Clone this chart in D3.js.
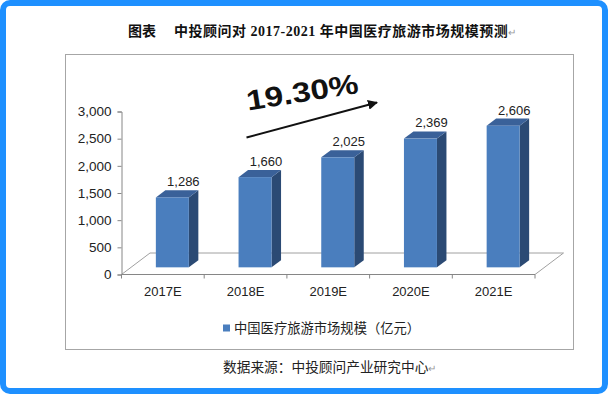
<!DOCTYPE html>
<html>
<head>
<meta charset="utf-8">
<script src="https://cdn.jsdelivr.net/npm/d3@7"></script>
<style>
  body { margin: 0; background: #fff; }
  text { font-family: "Liberation Sans", Arial, sans-serif; }
</style>
</head>
<body>
<svg id="chart" width="611" height="395"></svg>
<script>
// data
const categories = ["2017E", "2018E", "2019E", "2020E", "2021E"];
const marketSize = [1286, 1660, 2025, 2369, 2606];
const yTicks = [0, 500, 1000, 1500, 2000, 2500, 3000];
const seriesName = "中国医疗旅游市场规模（亿元）";
const growthLabel = "19.30%";

const svg = d3.select("#chart");

// outer blue frame
svg.append("rect")
  .attr("x", 3).attr("y", 3).attr("width", 602).attr("height", 388)
  .attr("rx", 7)
  .attr("fill", "#fff").attr("stroke", "#1e90ff").attr("stroke-width", 6);

// title
const title = svg.append("text")
  .attr("x", 128).attr("y", 36)
  .style("font-family", "'Liberation Serif', 'Noto Sans CJK SC', serif")
  .style("font-weight", "bold").style("font-size", "14px")
  .attr("fill", "#111");
title.append("tspan").text("图表");
title.append("tspan").attr("dx", 18).style("letter-spacing", "0.5px")
  .text("中投顾问对 2017-2021 年中国医疗旅游市场规模预测");
title.append("tspan").attr("fill", "#999").style("font-weight", "normal")
  .style("font-size", "10px").text("↵");

// chart area box
svg.append("rect")
  .attr("x", 65.5).attr("y", 54.5).attr("width", 508).attr("height", 295)
  .attr("fill", "#fff").attr("stroke", "#a6a6a6");

// scales
const x = d3.scaleBand().domain(categories).range([121.5, 535]);
const y = d3.scaleLinear().domain([0, 3000]).range([274.5, 111.5]);

// 3d depth of floor and of bars
const depthX = 28.5, depthY = -21.5;
const barDx = depthX / 3, barDy = depthY / 3;
const barW = 33;

// floor
const x0 = x.range()[0], x1 = x.range()[1], y0 = y(0);
svg.append("path")
  .attr("d", `M${x0},${y0} L${x0 + depthX},${y0 + depthY} L${x1 + depthX},${y0 + depthY} L${x1},${y0}`)
  .attr("fill", "none").attr("stroke", "#a0a0a0");

// x axis line + boundary ticks
svg.append("line")
  .attr("x1", x0).attr("x2", x1).attr("y1", y0).attr("y2", y0)
  .attr("stroke", "#868686");
svg.append("g").selectAll("line")
  .data(categories.map(c => x(c)).concat([x1]))
  .enter().append("line")
  .attr("x1", d => d).attr("x2", d => d)
  .attr("y1", y0).attr("y2", y0 + 4)
  .attr("stroke", "#868686");

svg.append("g").selectAll("text")
  .data(categories)
  .enter().append("text")
  .attr("x", d => x(d) + x.bandwidth() / 2)
  .attr("y", 296)
  .attr("text-anchor", "middle")
  .style("font-size", "13px").attr("fill", "#222")
  .text(d => d);

// y axis
const yAxis = svg.append("g")
  .attr("transform", `translate(${x0},0)`)
  .call(d3.axisLeft(y).tickValues(yTicks).tickFormat(d3.format(",")).tickSize(4).tickPadding(6));
yAxis.select(".domain").attr("stroke", "#868686");
yAxis.selectAll(".tick line").attr("stroke", "#868686");
yAxis.selectAll(".tick text")
  .style("font-family", "'Liberation Sans', Arial, sans-serif")
  .style("font-size", "13.5px").attr("fill", "#222");

// bars
const bars = categories.map((c, i) => {
  const cx = x(c) + x.bandwidth() / 2 + barDx;
  const bottom = y0 + barDy;
  const top = bottom - (y0 - y(marketSize[i]));
  return { c, v: marketSize[i], left: cx - barW / 2, right: cx + barW / 2, top, bottom, cx };
});

const g = svg.append("g");
bars.forEach(b => {
  // side
  g.append("path")
    .attr("d", `M${b.right},${b.top} L${b.right + barDx},${b.top + barDy} L${b.right + barDx},${b.bottom + barDy} L${b.right},${b.bottom}Z`)
    .attr("fill", "#2b4a74");
  // top
  g.append("path")
    .attr("d", `M${b.left},${b.top} L${b.left + barDx},${b.top + barDy} L${b.right + barDx},${b.top + barDy} L${b.right},${b.top}Z`)
    .attr("fill", "#3a6199");
  // front
  g.append("rect")
    .attr("x", b.left).attr("y", b.top)
    .attr("width", barW).attr("height", b.bottom - b.top)
    .attr("fill", "#4a7ebe");
  // value label
  g.append("text")
    .attr("x", b.cx + 11).attr("y", b.top + barDy - 4)
    .attr("text-anchor", "middle")
    .style("font-size", "13px").attr("fill", "#222")
    .text(d3.format(",")(b.v));
});

// growth arrow + label
svg.append("defs").append("marker")
  .attr("id", "arrow").attr("viewBox", "0 0 10 10")
  .attr("refX", 9).attr("refY", 5)
  .attr("markerWidth", 5).attr("markerHeight", 5)
  .attr("orient", "auto")
  .append("path").attr("d", "M0,0 L10,5 L0,10Z").attr("fill", "#111");

svg.append("line")
  .attr("x1", 246.5).attr("y1", 137.5).attr("x2", 377).attr("y2", 102.5)
  .attr("stroke", "#111").attr("stroke-width", 2)
  .attr("marker-end", "url(#arrow)");

svg.append("text")
  .attr("transform", "translate(248,110.5) rotate(-9)")
  .style("font-family", "'Liberation Sans', Arial, sans-serif")
  .style("font-weight", "bold").style("font-size", "28px")
  .attr("textLength", 113).attr("lengthAdjust", "spacingAndGlyphs")
  .attr("fill", "#111")
  .text(growthLabel);

// legend
svg.append("rect")
  .attr("x", 223).attr("y", 324.5).attr("width", 7).attr("height", 7)
  .attr("fill", "#4a7ebe");
svg.append("text")
  .attr("x", 234).attr("y", 333)
  .style("font-family", "'Noto Sans CJK SC', sans-serif")
  .style("font-size", "13.3px").attr("fill", "#222")
  .text(seriesName);

// source note
const src = svg.append("text")
  .attr("x", 223).attr("y", 372)
  .style("font-family", "'Noto Sans CJK SC', sans-serif")
  .style("font-size", "13.7px").attr("fill", "#222");
src.append("tspan").text("数据来源：中投顾问产业研究中心");
src.append("tspan").attr("fill", "#999").style("font-size", "10px").text("↵");
</script>
</body>
</html>
